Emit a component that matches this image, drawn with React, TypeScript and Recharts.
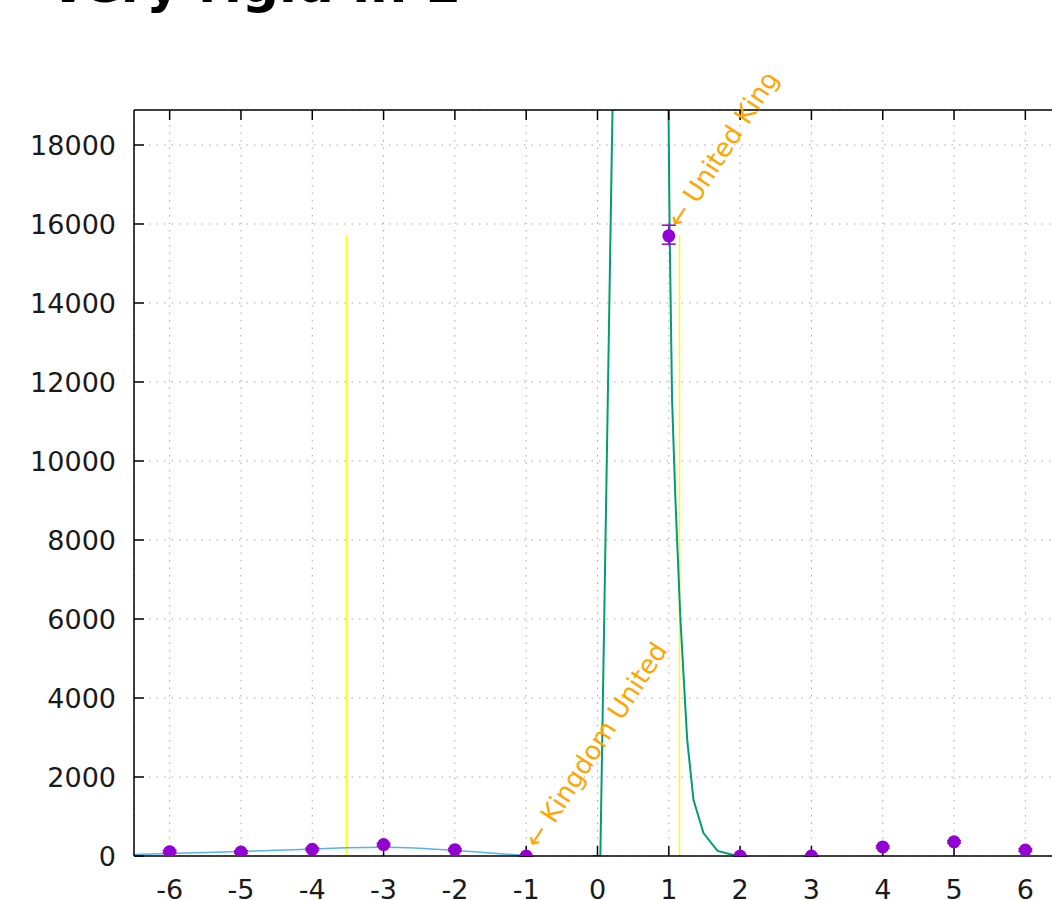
import React from 'react';
import {
  ComposedChart,
  Line,
  Scatter,
  ErrorBar,
  XAxis,
  YAxis,
  CartesianGrid,
  ReferenceLine,
  ReferenceDot,
} from 'recharts';

// tick values
const xTicks = [-6, -5, -4, -3, -2, -1, 0, 1, 2, 3, 4, 5, 6];
const yTicks = [0, 2000, 4000, 6000, 8000, 10000, 12000, 14000, 16000, 18000];

// measured points (purple, with error bars)
const pointX = [-6, -5, -4, -3, -2, -1, 1, 2, 3, 4, 5, 6];
const pointY = [110, 100, 170, 290, 160, 0, 15700, 0, 0, 230, 360, 150];
const pointErrLow = [30, 30, 30, 30, 30, 0, 210, 0, 0, 30, 30, 30];
const pointErrHigh = [30, 30, 30, 30, 30, 0, 270, 0, 0, 30, 30, 30];

// smooth blue curve on the left
const blueX = [-6.5, -6, -5.5, -5, -4.5, -4, -3.5, -3, -2.5, -2, -1.5, -1];
const blueY = [40, 65, 90, 115, 145, 175, 210, 220, 195, 140, 75, 10];

// green spike around 1
const greenX = [-0.07, 0.04, 0.215, 0.5, 0.8, 0.99, 1.012, 1.046, 1.093, 1.163, 1.258, 1.346, 1.486, 1.683, 1.907, 2.05];
const greenY = [0, 0, 19400, 30000, 30000, 20000, 15770, 11540, 9010, 5980, 2940, 1420, 580, 130, 25, 0];

// yellow vertical markers
const yellowX = [-3.52, 1.15];
const yellowTop = 15720;

// annotations
const annX = [-1, 1];
const annY = [0, 15700];
const annText = ['\u2190 Kingdom United', '\u2190 United Kingdom'];

const points = pointX.map((x, i) => ({ x, y: pointY[i], err: [pointErrLow[i], pointErrHigh[i]] }));
const blue = blueX.map((x, i) => ({ x, y: blueY[i] }));
const green = greenX.map((x, i) => ({ x, y: greenY[i] }));

const font = 'DejaVu Sans';

export default function App() {
  return (
    <div
      style={{
        position: 'fixed',
        left: 0,
        top: 0,
        width: 1052,
        height: 900,
        overflow: 'hidden',
        background: '#fff',
      }}
    >
      <div
        style={{
          position: 'absolute',
          left: 48,
          top: -42,
          fontFamily: font,
          fontWeight: 'bold',
          fontSize: 52,
          lineHeight: '52px',
          whiteSpace: 'nowrap',
          color: '#000',
        }}
      >
        Very rigid in L
      </div>
      <div style={{ position: 'absolute', left: 0, top: 75, width: 1100, height: 825, overflow: 'hidden' }}>
        <ComposedChart width={1100} height={825} margin={{ top: 34, right: 39, bottom: 0, left: 0 }}>
          <CartesianGrid stroke="#a8a8a8" strokeDasharray="1.5 6" />
          {yellowX.map((x) => (
            <ReferenceLine
              key={x}
              segment={[
                { x, y: 0 },
                { x, y: yellowTop },
              ]}
              stroke="#ffff00"
              strokeWidth={1.5}
            />
          ))}
          <Line
            data={blue}
            dataKey="y"
            type="monotone"
            stroke="#56b4e9"
            strokeWidth={1.5}
            dot={false}
            isAnimationActive={false}
          />
          <Line
            data={green}
            dataKey="y"
            type="linear"
            stroke="#009e73"
            strokeWidth={2}
            dot={false}
            isAnimationActive={false}
          />
          <Scatter
            data={points}
            dataKey="y"
            isAnimationActive={false}
            shape={(p: any) => <circle cx={p.cx} cy={p.cy} r={6.5} fill="#9400d3" />}
          >
            <ErrorBar dataKey="err" direction="y" width={7} stroke="#9400d3" strokeWidth={1.5} isAnimationActive={false} />
          </Scatter>
          {annX.map((x, i) => (
            <ReferenceDot
              key={i}
              x={x}
              y={annY[i]}
              r={0}
              ifOverflow="visible"
              shape={(p: any) => {
                const tx = p.cx + 12;
                const ty = p.cy - 6;
                return (
                  <text
                    x={tx}
                    y={ty}
                    transform={`rotate(-57 ${tx} ${ty})`}
                    fill="#ffa500"
                    fontSize={26}
                    fontFamily={font}
                  >
                    {annText[i]}
                  </text>
                );
              }}
            />
          ))}
          <XAxis
            dataKey="x"
            type="number"
            domain={[-6.5, 6.5]}
            ticks={xTicks}
            allowDataOverflow
            height={44}
            tickSize={-10}
            tickMargin={34}
            axisLine={{ stroke: '#000', strokeWidth: 1.5 }}
            tickLine={{ stroke: '#000', strokeWidth: 1.5 }}
            tick={{ fill: '#1a1a1a', fontSize: 27, fontFamily: font }}
          />
          <XAxis
            xAxisId="top"
            orientation="top"
            dataKey="x"
            type="number"
            domain={[-6.5, 6.5]}
            ticks={xTicks}
            allowDataOverflow
            height={1}
            tickSize={-10}
            axisLine={{ stroke: '#000', strokeWidth: 1.5 }}
            tickLine={{ stroke: '#000', strokeWidth: 1.5 }}
            tickFormatter={() => ''}
          />
          <YAxis
            type="number"
            domain={[0, 18886]}
            ticks={yTicks}
            allowDataOverflow
            width={134}
            tickSize={-10}
            tickMargin={28}
            axisLine={{ stroke: '#000', strokeWidth: 1.5 }}
            tickLine={{ stroke: '#000', strokeWidth: 1.5 }}
            tick={{ fill: '#1a1a1a', fontSize: 27, fontFamily: font }}
          />
        </ComposedChart>
      </div>
    </div>
  );
}
